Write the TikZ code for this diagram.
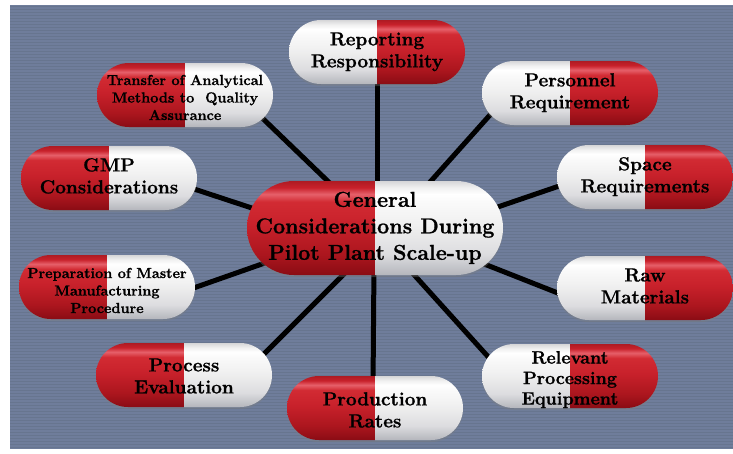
\documentclass[tikz,border=0pt]{standalone}
\usepackage{fontspec}
\setmainfont{Latin Modern Roman}[BoldFeatures={FakeBold=1.0}]
\usetikzlibrary{calc,shadows,shapes.misc}
\pgfdeclarelayer{bg}
\pgfdeclarelayer{lines}
\pgfsetlayers{bg,lines,main}

\definecolor{bgblue}{HTML}{6F7D9B}
\definecolor{bgstripe}{HTML}{67758F}
\definecolor{rdA}{HTML}{8A0C14}
\definecolor{rdB}{HTML}{AC161E}
\definecolor{rdC}{HTML}{C8212B}
\definecolor{rdD}{HTML}{D22B33}
\definecolor{rdE}{HTML}{E6606A}
\definecolor{rdF}{HTML}{AE1B23}
\definecolor{wtA}{HTML}{B4B6BC}
\definecolor{wtB}{HTML}{DCDCDF}
\definecolor{wtC}{HTML}{F0F0F0}
\definecolor{wtD}{HTML}{FAFAFA}
\definecolor{wtE}{HTML}{FFFFFF}
\definecolor{wtF}{HTML}{D6D6D8}

\pgfdeclareverticalshading{pillred}{100bp}{color(0bp)=(rdA); color(25bp)=(rdA); color(36bp)=(rdB); color(52bp)=(rdC); color(64bp)=(rdD); color(68bp)=(rdE); color(71.5bp)=(rdC); color(75bp)=(rdF); color(100bp)=(rdF)}
\pgfdeclareverticalshading{pillwhite}{100bp}{color(0bp)=(wtA); color(25bp)=(wtA); color(36bp)=(wtB); color(52bp)=(wtC); color(64bp)=(wtD); color(68bp)=(wtE); color(71.5bp)=(wtC); color(75bp)=(wtF); color(100bp)=(wtF)}

\newcommand\pillfont{\bfseries\fontsize{19}{22}\selectfont}
\newcommand\pillsmallfont{\bfseries\fontsize{14.5}{17.5}\selectfont}
\newcommand\pillmidfont{\bfseries\fontsize{18}{20.5}\selectfont}
\newcommand\pillbigfont{\bfseries\fontsize{21.5}{26.5}\selectfont}
% text block of zero width, lowered by #1 without changing its reported height
\newcommand\ptxt[2][0pt]{\makebox[0pt]{\raisebox{-#1}[\height][\depth]{\begin{tabular}{@{}c@{}}#2\end{tabular}}}}

\tikzset{
  pillbase/.style={shape=rounded rectangle, rounded rectangle arc length=180,
    minimum width=176pt, minimum height=64pt,
    inner sep=0pt, align=center, font=\pillfont, text=black,
    drop shadow={opacity=0.35, shadow xshift=0pt, shadow yshift=-2pt}},
  redwhite/.style={pillbase, path picture={
    \shade[shading=pillred] (path picture bounding box.south west) rectangle (path picture bounding box.north);
    \shade[shading=pillwhite] (path picture bounding box.south) rectangle (path picture bounding box.north east);}},
  whitered/.style={pillbase, path picture={
    \shade[shading=pillwhite] (path picture bounding box.south west) rectangle (path picture bounding box.north);
    \shade[shading=pillred] (path picture bounding box.south) rectangle (path picture bounding box.north east);}},
  bigpill/.style={minimum width=256pt, minimum height=94pt, font=\pillbigfont},
  conn/.style={line width=5pt, black}
}

\begin{document}
\begin{tikzpicture}[x=1pt, y=-1pt]
\useasboundingbox (0,0) rectangle (733,453);

% pills
\node[redwhite, bigpill] (c) at (375,228) {\ptxt{General\\Considerations During\\Pilot Plant Scale-up}};
\node[whitered] (rep) at (377,52) {\ptxt{Reporting\\Responsibility}};
\node[whitered] (pers) at (570,93) {\ptxt{Personnel\\Requirement}};
\node[whitered] (spc) at (645,177) {\ptxt{Space\\Requirements}};
\node[whitered] (raw) at (645,288) {\ptxt{Raw\\Materials}};
\node[whitered, font=\pillmidfont] (rel) at (570,376) {\ptxt[4pt]{Relevant\\Processing\\Equipment}};
\node[redwhite] (prod) at (375,408) {\ptxt[4pt]{Production\\Rates}};
\node[redwhite] (proc) at (184,375) {\ptxt[3pt]{Process\\Evaluation}};
\node[redwhite, font=\pillsmallfont] (prep) at (107,287) {\ptxt[5pt]{Preparation of Master\\Manufacturing\\Procedure}};
\node[redwhite] (gmp) at (109,178) {\ptxt{GMP\\Considerations}};
\node[redwhite, font=\pillsmallfont] (tr) at (185,95) {\ptxt[4pt]{Transfer of Analytical\\Methods to~ Quality\\Assurance}};

% background
\begin{pgfonlayer}{bg}
  \fill[white] (0,0) rectangle (733,453);
  \fill[bgblue] (10,5) rectangle (733,449);
  \foreach \yy in {6.5,9.5,...,448} {
    \draw[bgstripe, line width=1pt] (10,\yy) -- (733,\yy);
  }
\end{pgfonlayer}

% connectors
\begin{pgfonlayer}{lines}
  \draw[conn] ($(c)+(2,-33)$) -- ($(rep)+(0,18)$);
  \draw[conn] ($(c)+(47,-37)$) -- ($(pers)+(-72,13)$);
  \draw[conn] ($(c)+(111,-17)$) -- ($(spc)+(-77,6)$);
  \draw[conn] ($(c)+(94,30)$) -- ($(raw)+(-77,9)$);
  \draw[conn] ($(c)+(32,39)$) -- ($(rel)+(-69,-5)$);
  \draw[conn] ($(c)+(-1,35)$) -- ($(prod)+(-2,-20)$);
  \draw[conn] ($(c)+(-24,39)$) -- ($(proc)+(76,-17)$);
  \draw[conn] ($(c)+(-96,30)$) -- ($(prep)+(78,4)$);
  \draw[conn] ($(c)+(-111,-16)$) -- ($(gmp)+(76,8)$);
  \draw[conn] ($(c)+(-38,-38)$) -- ($(tr)+(71,17)$);
\end{pgfonlayer}
\end{tikzpicture}
\end{document}
